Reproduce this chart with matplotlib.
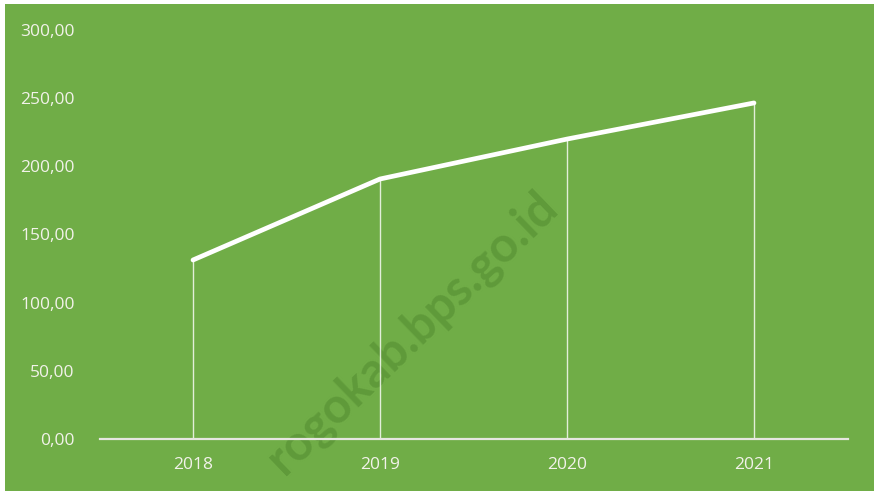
import matplotlib
matplotlib.use("Agg")
import matplotlib.pyplot as plt
from matplotlib.patches import Rectangle
from matplotlib.ticker import FuncFormatter

years = ["2018", "2019", "2020", "2021"]
values = [131.3, 190.7, 220.0, 246.5]
y_ticks = [0, 50, 100, 150, 200, 250, 300]

GREEN = "#70AD47"
W, H = 874, 494
fig = plt.figure(figsize=(W / 100, H / 100), dpi=100, facecolor="white")
fig.patches.append(Rectangle((5 / W, 3 / H), 1 - 5 / W, 1 - 7 / H,
                             transform=fig.transFigure, facecolor=GREEN,
                             edgecolor="none", zorder=-10))

fig.text(560 / W, (H - 210) / H, "rogokab.bps.go.id", fontsize=35,
         fontweight="bold", color="#5A9436", alpha=0.75, rotation=44,
         rotation_mode="anchor", ha="right", va="baseline", family="Lato",
         zorder=-5)

ax = fig.add_axes([99.5 / W, (H - 439) / H, (847.5 - 99.5) / W, (439 - 30) / H])
ax.set_zorder(1)
ax.set_facecolor("none")
x = list(range(len(years)))
ax.vlines(x, 0, values, color="white", linewidth=1.0, alpha=0.8, zorder=2)
ax.plot(x, values, color="white", linewidth=3.4, solid_capstyle="round",
        solid_joinstyle="round", zorder=3)

ax.set_xlim(-0.5, len(years) - 0.5)
ax.set_ylim(0, 300)
ax.set_xticks(x)
ax.set_xticklabels(years)
ax.set_yticks(y_ticks)
ax.yaxis.set_major_formatter(FuncFormatter(lambda v, p: f"{v:.2f}".replace(".", ",")))
for s in ["left", "right", "top"]:
    ax.spines[s].set_visible(False)
ax.spines["bottom"].set_color("#E6E6E0")
ax.spines["bottom"].set_linewidth(1.6)
ax.tick_params(axis="both", length=0, colors="#F2F2EA", labelsize=12.5)
ax.tick_params(axis="y", pad=18)
ax.tick_params(axis="x", pad=13)
for lab in ax.get_xticklabels() + ax.get_yticklabels():
    lab.set_fontfamily("Open Sans")

fig.savefig("out.png", dpi=100, facecolor="white")
